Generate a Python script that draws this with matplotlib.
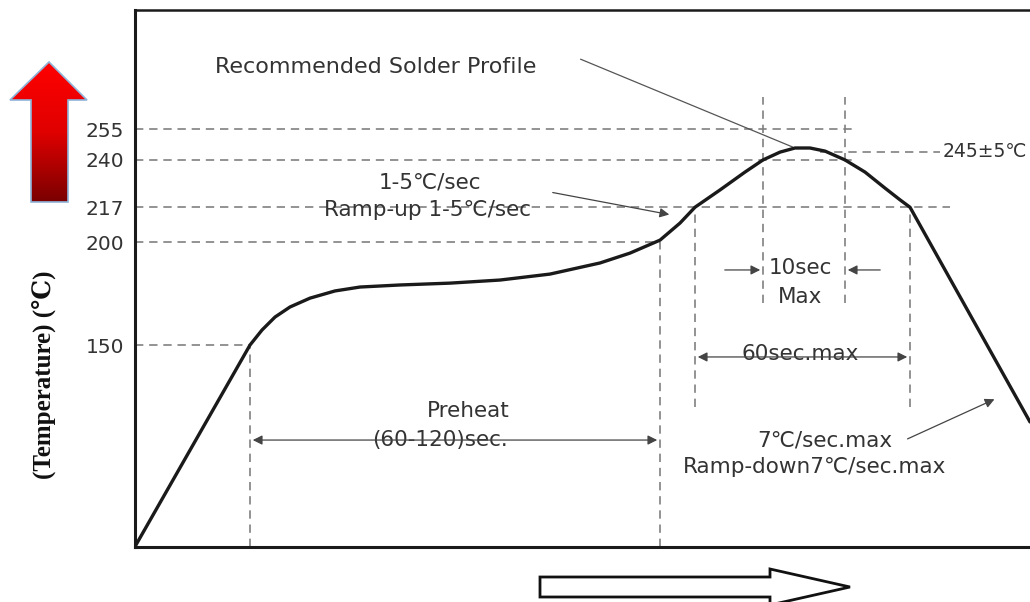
import numpy as np
import matplotlib
matplotlib.use("Agg")
import matplotlib.pyplot as plt
from matplotlib.patches import Polygon

# reflow profile (time in arbitrary units, temperature in C)
time_s = [0, 115, 127, 140, 155, 175, 200, 225, 265, 315, 365, 415, 465, 495,
          525, 545, 560, 585, 610, 628, 645, 660, 675, 690, 710, 730, 750, 765,
          775, 895]
temp_c = [52, 150, 157.3, 163.6, 168.5, 172.8, 176.3, 178.2, 179.2, 180.1,
          181.6, 184.5, 189.9, 194.7, 201, 209.3, 217, 225.4, 234.1, 240, 243.8,
          245.8, 245.8, 244.3, 240, 234.1, 226.3, 220.6, 217, 112.6]

tick_values = [150, 200, 217, 240, 255]
tick_labels = ["150", "200", "217", "240", "255"]

# guide lines: (level, start, end)
h_guides = [(255, 0, 720), (240, 0, 720), (244, 685, 805), (217, 0, 815),
            (200, 0, 525), (150, 0, 115)]
v_guides = [(115, 52, 150), (525, 52, 200), (560, 120, 217), (775, 120, 217),
            (628, 170.4, 270.6), (710, 170.4, 270.6)]

W, H = 1030, 602
fig = plt.figure(figsize=(W / 100, H / 100), dpi=100)
ax = fig.add_axes([135 / W, (H - 547) / H, (W - 135) / W, (547 - 10) / H])
ax.set_xlim(0, 895)
ax.set_ylim(51.8, 312.9)

txt = "#333333"
dash = dict(color="#808080", lw=1.2, linestyle=(0, (5, 3.5)))
font = ["DejaVu Sans"]
fs = 15.5

for lvl, a, b in h_guides:
    ax.hlines(lvl, a, b, **dash)
for x, a, b in v_guides:
    ax.vlines(x, a, b, **dash)

ax.plot(time_s, temp_c, color="#1a1a1a", lw=2.4, solid_capstyle="round", zorder=5)

ax.set_xticks([])
ax.set_yticks(tick_values)
ax.set_yticklabels(tick_labels, fontsize=14.5, color=txt, family=font)
ax.tick_params(axis="y", length=0, pad=8)
ax.spines["right"].set_visible(False)
ax.spines["left"].set_linewidth(2.2)
ax.spines["bottom"].set_linewidth(2.2)
ax.spines["top"].set_linewidth(1.8)
for s in ["left", "bottom", "top"]:
    ax.spines[s].set_color("#1a1a1a")

thin = dict(arrowstyle="-|>", color="#444444", lw=0.9, mutation_scale=14)
both = dict(arrowstyle="<|-|>", color="#444444", lw=0.9, mutation_scale=14)

ax.text(80, 285, "Recommended Solder Profile", fontsize=16, color=txt,
        family=font, va="center", ha="left")
ax.annotate("", xy=(660, 245.8), xytext=(443, 289.5),
            arrowprops=dict(arrowstyle="-", color="#555555", lw=0.9))

ax.text(295, 228.8, "1-5\u2103/sec", fontsize=fs, color=txt, family=font,
        ha="center", va="center")
ax.text(293, 215.6, "Ramp-up 1-5\u2103/sec", fontsize=fs, color=txt, family=font,
        ha="center", va="center")
ax.annotate("", xy=(537, 213.2), xytext=(415, 224.4), arrowprops=thin)

ax.text(665, 187.4, "10sec", fontsize=fs, color=txt, family=font,
        ha="center", va="center")
ax.text(665, 173.3, "Max", fontsize=fs, color=txt, family=font,
        ha="center", va="center")
ax.annotate("", xy=(628, 186.5), xytext=(587, 186.5), arrowprops=thin)
ax.annotate("", xy=(710, 186.5), xytext=(748, 186.5), arrowprops=thin)

ax.text(665, 145.6, "60sec.max", fontsize=fs, color=txt, family=font,
        ha="center", va="center")
ax.annotate("", xy=(775, 144.2), xytext=(560, 144.2), arrowprops=both)

ax.text(333, 117.9, "Preheat", fontsize=fs, color=txt, family=font,
        ha="center", va="center")
ax.text(305, 103.8, "(60-120)sec.", fontsize=fs, color=txt, family=font,
        ha="center", va="center")
ax.annotate("", xy=(525, 103.8), xytext=(115, 103.8), arrowprops=both)

ax.text(690, 103.8, "7\u2103/sec.max", fontsize=fs, color=txt, family=font,
        ha="center", va="center")
ax.text(680, 90.7, "Ramp-down7\u2103/sec.max", fontsize=fs, color=txt,
        family=font, ha="center", va="center")
ax.annotate("", xy=(862, 124.2), xytext=(770, 103.8), arrowprops=thin)

ax.text(808, 244, "245\u00b15\u2103", fontsize=13.5, color=txt, family=font,
        ha="left", va="center", clip_on=False)

fig.text(45 / W, 1 - 375 / H, "(Temperature) (\u2103)", rotation=90,
         fontsize=18, color="#111111", weight="bold",
         family=["Liberation Serif", "DejaVu Serif"], ha="center", va="center")

# decorative arrows in pixel space
deco = fig.add_axes([0, 0, 1, 1], facecolor="none")
deco.set_xlim(0, W)
deco.set_ylim(H, 0)
deco.axis("off")

red_pts = [(49, 62), (87, 100), (68, 100), (68, 202), (31, 202), (31, 100), (10, 100)]
red = Polygon(red_pts, closed=True, facecolor="none", edgecolor="#8fb3d9", lw=1.2,
              zorder=3)
deco.add_patch(red)
grad = np.linspace(0, 1, 256).reshape(-1, 1)
cmap = matplotlib.colors.LinearSegmentedColormap.from_list(
    "redfade", ["#ff0000", "#e00000", "#7a0000"])
img = deco.imshow(grad, cmap=cmap, extent=(10, 87, 202, 62), aspect="auto",
                  zorder=2, interpolation="bicubic")
img.set_clip_path(red)

hollow_pts = [(540, 577), (770, 577), (770, 569), (850, 587), (770, 605),
              (770, 597), (540, 597)]
deco.add_patch(Polygon(hollow_pts, closed=True, facecolor="white",
                       edgecolor="#111111", lw=2))

fig.savefig("out.png", dpi=100)
